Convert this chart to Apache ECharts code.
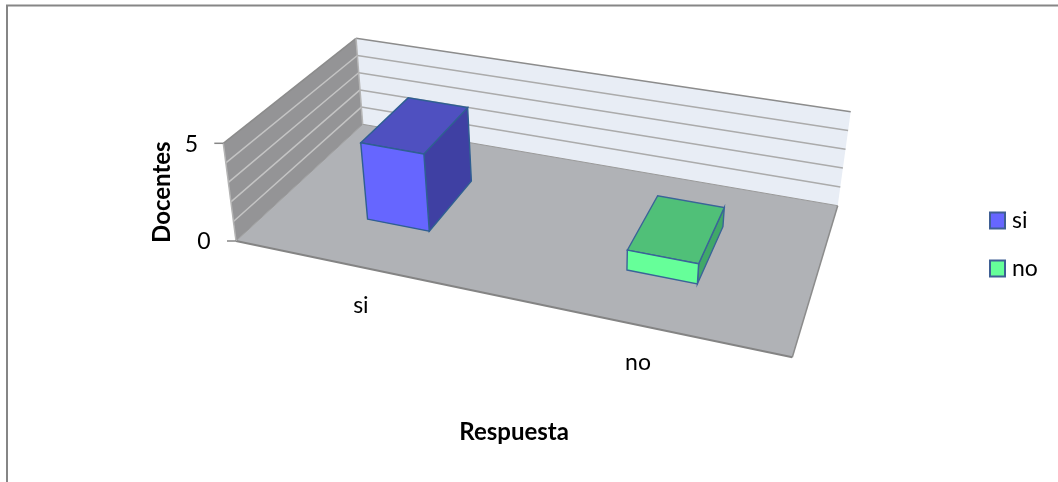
<!DOCTYPE html>
<html>
<head>
<meta charset="utf-8">
<style>
  html,body{margin:0;padding:0;background:#fff;}
  #chart{width:1058px;height:482px;}
</style>
</head>
<body>
<div id="chart"></div>
<script src="https://cdn.jsdelivr.net/npm/echarts@6/dist/echarts.min.js"></script>
<script>
const categories=['si','no']
const siValues=[4,null]
const noValues=[null,1]
const gridTicks=[1,2,3,4,5]
const labelTicks=[0,5]
const yMax=5
const xName='Respuesta'
const yName='Docentes'

const font='Lato, "Open Sans", sans-serif'
const gridBox={left:236,top:143.3,width:556.3,height:97.7}

// floor and ceiling of the box as seen by the 3d camera
const floorQuad=[[236,241],[792.3,357.3],[837.7,205.7],[362.7,124.3]]
const topQuad=[[223.3,143.3],[806,253],[850.7,111.7],[356,38.3]]

function quadMap(q){
  const [p0,p1,p2,p3]=q
  const dx1=p1[0]-p2[0],dx2=p3[0]-p2[0],sx=p0[0]-p1[0]+p2[0]-p3[0]
  const dy1=p1[1]-p2[1],dy2=p3[1]-p2[1],sy=p0[1]-p1[1]+p2[1]-p3[1]
  const den=dx1*dy2-dx2*dy1
  const g=(sx*dy2-dx2*sy)/den,h=(dx1*sy-sx*dy1)/den
  const a=p1[0]-p0[0]+g*p1[0],b=p3[0]-p0[0]+h*p3[0]
  const d=p1[1]-p0[1]+g*p1[1],e=p3[1]-p0[1]+h*p3[1]
  return (u,v)=>{
    const w=g*u+h*v+1
    return [(a*u+b*v+p0[0])/w,(d*u+e*v+p0[1])/w]
  }
}
const floorMap=quadMap(floorQuad)
const topMap=quadMap(topQuad)
// u along the categories, v into the depth, t share of the value axis
function project(u,v,t){
  const f=floorMap(u,v),c=topMap(u,v)
  return [f[0]+(c[0]-f[0])*t,f[1]+(c[1]-f[1])*t]
}
function poly(points,fill,stroke,lineWidth){
  return {type:'polygon',shape:{points},style:{fill,stroke:stroke||'none',lineWidth:lineWidth||0}}
}
function seg(a,b,stroke,lineWidth){
  return {type:'line',shape:{x1:a[0],y1:a[1],x2:b[0],y2:b[1]},style:{stroke,lineWidth}}
}
function label(text,x,y){
  return {type:'text',style:{text,x,y,fill:'#000',font:'23px '+font,align:'center',verticalAlign:'middle'}}
}

function renderFrame(params,api){
  const size=api.size([1,yMax])
  const base=api.coord([0,0])
  const share=val=>(base[1]-api.coord([0,val])[1])/size[1]
  const uOf=i=>(api.coord([i,0])[0]-gridBox.left)/gridBox.width
  const kids=[
    poly([project(0,0,0),project(0,1,0),project(0,1,1),project(0,0,1)],'#949496'),
    poly([project(0,1,0),project(1,1,0),project(1,1,1),project(0,1,1)],'#E8EDF5'),
    poly([project(0,0,0),project(1,0,0),project(1,1,0),project(0,1,0)],'#B0B2B6')
  ]
  gridTicks.forEach(val=>{
    const t=share(val)
    const edge=val===yMax
    kids.push(seg(project(0,0,t),project(0,1,t),edge?'#8c8c8c':'#c4c4c4',1.5))
    kids.push(seg(project(0,1,t),project(1,1,t),edge?'#8c8c8c':'#ababab',1.5))
  })
  kids.push(seg(project(0,0,0),project(1,0,0),'#848484',2))
  kids.push(seg(project(1,0,0),project(1,1,0),'#8c8c8c',1.5))
  kids.push(seg(project(0,1,0),project(1,1,0),'#9a9a9a',1))
  kids.push(seg(project(0,0,0),project(0,1,0),'#9a9a9a',1))
  kids.push(seg(project(0,0,0),project(0,0,1),'#b4b4b4',1.5))
  kids.push(seg(project(0,1,0),project(0,1,1),'#b4b4b4',1.5))
  labelTicks.forEach(val=>{
    const p=project(0,0,share(val))
    kids.push(seg([p[0]-9,p[1]],p,'#868686',1.5))
    kids.push(label(String(val),p[0]-32,p[1]+1))
  })
  categories.forEach((name,i)=>{
    const p=project(uOf(i),0,0)
    kids.push(label(name,p[0],p[1]+38))
  })
  return {type:'group',children:kids}
}

function barRender(front,top,side,stroke){
  return function(params,api){
    const idx=api.value(0)
    const val=api.value(1)
    const c0=api.coord([idx,0])
    const c1=api.coord([idx,val])
    const band=api.size([1,0])[0]
    const u0=(c0[0]-band*0.125-gridBox.left)/gridBox.width
    const u1=(c0[0]+band*0.125-gridBox.left)/gridBox.width
    const t=(c0[1]-c1[1])/gridBox.height
    const v0=0.3,v1=0.7
    const kids=[
      poly([project(u1,v0,0),project(u1,v1,0),project(u1,v1,t),project(u1,v0,t)],side,stroke,1.4),
      poly([project(u0,v0,t),project(u1,v0,t),project(u1,v1,t),project(u0,v1,t)],top,stroke,1.4),
      poly([project(u0,v0,0),project(u1,v0,0),project(u1,v0,t),project(u0,v0,t)],front,stroke,1.4)
    ]
    return {type:'group',children:kids}
  }
}
function toPairs(values){
  return values.map((v,i)=>[i,v]).filter(d=>d[1]!==null)
}

const chartInstance=echarts.init(document.getElementById('chart'))
chartInstance.setOption({
  backgroundColor:'#fff',
  animation:false,
  grid:gridBox,
  graphic:[{
    type:'polyline',
    shape:{points:[[7,482],[7,5.5],[1058,5.5]]},
    style:{stroke:'#868686',fill:'none',lineWidth:2}
  }],
  legend:{
    data:categories,
    orient:'vertical',
    left:989,
    top:209,
    padding:0,
    itemWidth:15,
    itemHeight:16,
    itemGap:25,
    icon:'rect',
    itemStyle:{borderColor:'#3F5F94',borderWidth:2},
    textStyle:{fontFamily:font,fontSize:23,color:'#000',padding:[0,0,0,2]},
    selectedMode:false
  },
  xAxis:{
    type:'category',
    data:categories,
    name:xName,
    nameLocation:'middle',
    nameGap:179,
    nameTextStyle:{fontFamily:font,fontSize:24,fontWeight:'bold',color:'#000'},
    axisLine:{show:false},
    axisTick:{show:false},
    axisLabel:{show:false},
    splitLine:{show:false}
  },
  yAxis:{
    type:'value',
    min:0,
    max:yMax,
    interval:1,
    name:yName,
    nameLocation:'middle',
    nameGap:62,
    nameTextStyle:{fontFamily:font,fontSize:24,fontWeight:'bold',color:'#000'},
    axisLine:{show:false},
    axisTick:{show:false},
    axisLabel:{show:false},
    splitLine:{show:false}
  },
  series:[
    {name:'frame',type:'custom',data:[[0,0]],renderItem:renderFrame,silent:true,z:1},
    {name:'si',type:'custom',data:toPairs(siValues),encode:{x:0,y:1},itemStyle:{color:'#6666FF'},
      renderItem:barRender('#6666FF','#4F50C0','#3F40A3','#2F5F92'),z:2},
    {name:'no',type:'custom',data:toPairs(noValues),encode:{x:0,y:1},itemStyle:{color:'#66FF99'},
      renderItem:barRender('#66FF99','#50C078','#40A868','#3A6498'),z:2}
  ]
})
</script>
</body>
</html>
